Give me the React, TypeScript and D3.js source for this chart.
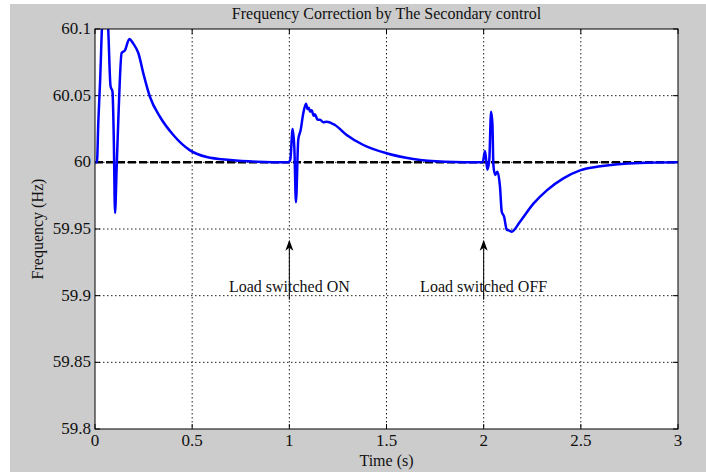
import * as d3 from "d3";

// Frequency response (Hz) against time (s)
const startupTime = [0, 0.01, 0.017, 0.026, 0.04, 0.055, 0.068, 0.08, 0.09, 0.097, 0.103, 0.111, 0.12, 0.137, 0.154, 0.177, 0.197, 0.223, 0.25, 0.283, 0.335, 0.403, 0.489, 0.575, 0.695, 0.832];
const startupFreq = [60, 60, 60.03, 60.06, 60.115, 60.13, 60.1, 60.057, 60.053, 60.015, 59.962, 59.994, 60.032, 60.082, 60.084, 60.0925, 60.089, 60.082, 60.066, 60.049, 60.034, 60.0205, 60.009, 60.004, 60.0018, 60.0005];

const loadOnTime = [0.995, 1.005, 1.017, 1.026, 1.034, 1.046, 1.058, 1.072, 1.086, 1.093, 1.1, 1.107, 1.115, 1.125, 1.132, 1.145, 1.158, 1.175, 1.192, 1.235, 1.295, 1.381, 1.5, 1.638, 1.8];
const loadOnFreq = [60, 60.002, 60.025, 60.01, 59.97, 60.017, 60.024, 60.037, 60.044, 60.04, 60.041, 60.038, 60.039, 60.035, 60.036, 60.032, 60.032, 60.03, 60.0305, 60.028, 60.0205, 60.013, 60.0068, 60.0025, 60.0005];

const loadOffTime = [1.995, 2.007, 2.019, 2.029, 2.038, 2.045, 2.05, 2.059, 2.071, 2.084, 2.093, 2.105, 2.119, 2.13, 2.144, 2.187, 2.256, 2.325, 2.41, 2.496, 2.6, 2.8, 3];
const loadOffFreq = [60, 60.0085, 59.9945, 60.0018, 60.038, 60.029, 59.998, 59.9905, 59.993, 59.9817, 59.963, 59.9593, 59.9493, 59.949, 59.948, 59.9555, 59.969, 59.979, 59.988, 59.994, 59.997, 59.9995, 60];

const timeTicks = [0, 0.5, 1, 1.5, 2, 2.5, 3];
const freqTicks = [59.8, 59.85, 59.9, 59.95, 60, 60.05, 60.1];

const nominalFreq = 60;
const events = [
  { t: 1, label: "Load switched ON" },
  { t: 2, label: "Load switched OFF" },
];

const W = 706;
const H = 472;
const margin = { top: 29, right: 28, bottom: 43, left: 95 };
const font = "'Liberation Serif', 'Times New Roman', serif";

export default function App() {
  const innerW = W - margin.left - margin.right;
  const innerH = H - margin.top - margin.bottom;

  const x = d3.scaleLinear().domain([0, 3]).range([0, innerW]);
  const y = d3.scaleLinear().domain([59.8, 60.1]).range([innerH, 0]);

  const time = [...startupTime, ...loadOnTime, ...loadOffTime];
  const freq = [...startupFreq, ...loadOnFreq, ...loadOffFreq];
  const pts = time.map((t, i) => [t, freq[i]] as [number, number]);

  const line = d3
    .line<[number, number]>()
    .x((d) => x(d[0]))
    .y((d) => y(d[1]))
    .curve(d3.curveMonotoneX);

  const tickLen = 5;

  return (
    <svg
      width={W}
      height={H}
      style={{ position: "absolute", left: 0, top: 0, background: "#fff" }}
      fontFamily={font}
    >
      <rect x={10} y={4} width={W - 10} height={H - 4} fill="#cccccc" />
      <text x={margin.left + innerW / 2} y={19} textAnchor="middle" fontSize={16} fill="#111">
        Frequency Correction by The Secondary control
      </text>
      <g transform={`translate(${margin.left},${margin.top})`}>
        <defs>
          <clipPath id="plot-clip">
            <rect x={0} y={0} width={innerW} height={innerH} />
          </clipPath>
        </defs>
        <rect x={0} y={0} width={innerW} height={innerH} fill="#fff" />

        {/* grid */}
        {timeTicks.slice(1, -1).map((t) => (
          <line key={"gx" + t} x1={x(t)} x2={x(t)} y1={0} y2={innerH} stroke="#222" strokeDasharray="1.5,2.5" />
        ))}
        {freqTicks.slice(1, -1).map((f) => (
          <line key={"gy" + f} x1={0} x2={innerW} y1={y(f)} y2={y(f)} stroke="#222" strokeDasharray="1.5,2.5" />
        ))}

        {/* ticks */}
        {timeTicks.map((t) => (
          <g key={"tx" + t}>
            <line x1={x(t)} x2={x(t)} y1={innerH} y2={innerH - tickLen} stroke="#000" />
            <line x1={x(t)} x2={x(t)} y1={0} y2={tickLen} stroke="#000" />
            <text x={x(t)} y={innerH + 17} textAnchor="middle" fontSize={17} fill="#111">
              {t}
            </text>
          </g>
        ))}
        {freqTicks.map((f) => (
          <g key={"ty" + f}>
            <line x1={0} x2={tickLen} y1={y(f)} y2={y(f)} stroke="#000" />
            <line x1={innerW} x2={innerW - tickLen} y1={y(f)} y2={y(f)} stroke="#000" />
            <text x={-4} y={y(f) + 5} textAnchor="end" fontSize={17} fill="#111">
              {f}
            </text>
          </g>
        ))}

        {/* nominal frequency reference */}
        <line
          x1={0}
          x2={innerW}
          y1={y(nominalFreq)}
          y2={y(nominalFreq)}
          stroke="#000"
          strokeWidth={2.5}
          strokeDasharray="8,3"
        />

        <path d={line(pts) ?? ""} fill="none" stroke="#0000ff" strokeWidth={2.5} clipPath="url(#plot-clip)" />

        {/* annotations */}
        {events.map((e) => {
          const ax = x(e.t);
          const tip = y(59.942);
          return (
            <g key={e.label}>
              <line x1={ax} x2={ax} y1={y(59.897)} y2={tip + 2} stroke="#000" />
              <path d={`M${ax},${tip} L${ax - 4},${tip + 11} L${ax},${tip + 8} L${ax + 4},${tip + 11} Z`} fill="#000" />
              <text x={ax} y={y(59.903)} textAnchor="middle" fontSize={16} fill="#111">
                {e.label}
              </text>
            </g>
          );
        })}

        {/* frame */}
        <rect x={0} y={0} width={innerW} height={innerH} fill="none" stroke="#000" />

        <text x={innerW / 2} y={innerH + 37} textAnchor="middle" fontSize={16} fill="#111">
          Time (s)
        </text>
        <text
          transform={`translate(${-52},${innerH / 2}) rotate(-90)`}
          textAnchor="middle"
          fontSize={16}
          fill="#111"
        >
          Frequency (Hz)
        </text>
      </g>
    </svg>
  );
}
